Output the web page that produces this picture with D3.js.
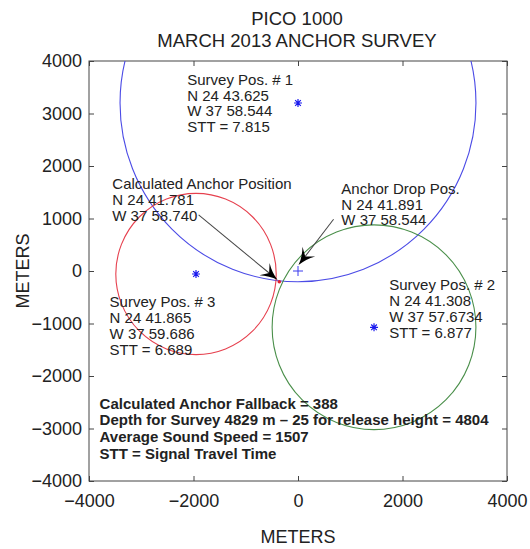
<!DOCTYPE html>
<html>
<head>
<meta charset="utf-8">
<script src="https://cdn.jsdelivr.net/npm/d3@7"></script>
<style>
  html, body { margin: 0; padding: 0; background: #fff; }
  svg { display: block; font-family: "Liberation Sans", Arial, Helvetica, sans-serif; }
</style>
</head>
<body>
<svg id="chart" width="530" height="549"></svg>
<script>
// ---- Survey data (metres relative to the anchor drop position) ----
const surveyNames = ["Survey Pos. # 1", "Survey Pos. # 2", "Survey Pos. # 3"];
const surveyX = [0, 1455, -1952];
const surveyY = [3200, -1072, -57];
const surveyRange = [3406, 1950, 1535];          // horizontal range circles
const surveyLat = ["N 24 43.625", "N 24 41.308", "N 24 41.865"];
const surveyLon = ["W 37 58.544", "W 37 57.6734", "W 37 59.686"];
const surveySTT = ["7.815", "6.877", "6.689"];
const surveyColors = ["#4b4be6", "#4a8f4a", "#e6404e"];

const dropPos = [0, 0];
const dropLat = "N 24 41.891";
const dropLon = "W 37 58.544";

const anchorPos = [-358, -204];
const anchorLat = "N 24 41.781";
const anchorLon = "W 37 58.740";

const notes = [
  "Calculated Anchor Fallback = 388",
  "Depth for Survey 4829 m \u2013 25 for release height = 4804",
  "Average Sound Speed = 1507",
  "STT = Signal Travel Time"
];

const xTicks = [-4000, -2000, 0, 2000, 4000];
const yTicks = [-4000, -3000, -2000, -1000, 0, 1000, 2000, 3000, 4000];
const titleLines = ["PICO 1000", "MARCH 2013 ANCHOR SURVEY"];
const axisLabel = "METERS";

// ---- Layout ----
const svg = d3.select("#chart");
const pL = 89, pR = 507, pT = 61, pB = 481;
const x = d3.scaleLinear().domain([-4000, 4000]).range([pL, pR]);
const y = d3.scaleLinear().domain([-4000, 4000]).range([pB, pT]);
const axisColor = "#444";

svg.append("defs").append("clipPath").attr("id", "plotClip")
  .append("rect").attr("x", pL).attr("y", pT)
  .attr("width", pR - pL).attr("height", pB - pT);

// Title
svg.append("g").selectAll("text").data(titleLines).join("text")
  .attr("x", 297).attr("y", (d, i) => 24.5 + i * 22)
  .attr("text-anchor", "middle").attr("font-size", 18.5).attr("fill", "#222")
  .text(d => d);

// Axes (ticks inside, mirrored on the opposite sides)
const tickFmt = d => d < 0 ? "\u2212" + Math.abs(d) : String(d);
function styleAxis(g) {
  g.select(".domain").remove();
  g.selectAll(".tick line").attr("stroke", axisColor);
  g.selectAll(".tick text").attr("fill", "#222").attr("font-size", 18)
    .attr("font-family", "Liberation Sans, Arial, sans-serif");
}
svg.append("g").attr("transform", `translate(0,${pB})`)
  .call(d3.axisBottom(x).tickValues(xTicks).tickFormat(tickFmt).tickSizeInner(-5).tickSizeOuter(0).tickPadding(13))
  .call(styleAxis);
svg.append("g").attr("transform", `translate(0,${pT})`)
  .call(d3.axisTop(x).tickValues(xTicks).tickFormat("").tickSizeInner(-5).tickSizeOuter(0))
  .call(styleAxis);
svg.append("g").attr("transform", `translate(${pL},0)`)
  .call(d3.axisLeft(y).tickValues(yTicks).tickFormat(tickFmt).tickSizeInner(-5).tickSizeOuter(0).tickPadding(7))
  .call(styleAxis);
svg.append("g").attr("transform", `translate(${pR},0)`)
  .call(d3.axisRight(y).tickValues(yTicks).tickFormat("").tickSizeInner(-5).tickSizeOuter(0))
  .call(styleAxis);

svg.append("rect").attr("x", pL).attr("y", pT)
  .attr("width", pR - pL).attr("height", pB - pT)
  .attr("fill", "none").attr("stroke", axisColor).attr("stroke-width", 1);

// Axis titles
svg.append("text").attr("x", 298).attr("y", 543).attr("text-anchor", "middle")
  .attr("font-size", 18).attr("fill", "#222").text(axisLabel);
svg.append("text").attr("transform", `translate(29,${(pT + pB) / 2}) rotate(-90)`)
  .attr("text-anchor", "middle").attr("font-size", 18).attr("fill", "#222").text(axisLabel);

// Range circles
const plot = svg.append("g").attr("clip-path", "url(#plotClip)");
const kx = (x(1000) - x(0)) / 1000, ky = (y(0) - y(1000)) / 1000;
plot.selectAll("ellipse.range").data(surveyX).join("ellipse")
  .attr("class", "range")
  .attr("cx", (d, i) => x(surveyX[i]))
  .attr("cy", (d, i) => y(surveyY[i]))
  .attr("rx", (d, i) => surveyRange[i] * kx)
  .attr("ry", (d, i) => surveyRange[i] * ky)
  .attr("fill", "none")
  .attr("stroke", (d, i) => surveyColors[i])
  .attr("stroke-width", 1.1);

// Survey positions: '*' markers
const starPath = r => {
  const a = r * 0.7071;
  return `M${-r},0L${r},0M0,${-r}L0,${r}M${-a},${-a}L${a},${a}M${-a},${a}L${a},${-a}`;
};
plot.selectAll("path.star").data(surveyX).join("path")
  .attr("class", "star")
  .attr("transform", (d, i) => `translate(${x(surveyX[i])},${y(surveyY[i])})`)
  .attr("d", starPath(4))
  .attr("stroke", "#1a1aee").attr("stroke-width", 1.2).attr("fill", "none");

// Anchor drop position: '+' marker
plot.append("path")
  .attr("transform", `translate(${x(dropPos[0])},${y(dropPos[1])})`)
  .attr("d", "M-5,0L5,0M0,-5L0,5")
  .attr("stroke", "#3a3aee").attr("stroke-width", 1);

// Calculated anchor position: small red dot
plot.append("circle")
  .attr("cx", x(anchorPos[0])).attr("cy", y(anchorPos[1])).attr("r", 1.8)
  .attr("fill", "#e02030");

// Text blocks anchored at the first line's centre (data units)
function textBlock(px, py, lines, opts = {}) {
  const size = opts.size || 15, gap = opts.gap || 15.8;
  svg.append("g").selectAll("text").data(lines).join("text")
    .attr("x", x(px))
    .attr("y", (d, i) => y(py) + size * 0.36 + i * gap)
    .attr("font-size", size)
    .attr("font-weight", opts.bold ? "bold" : "normal")
    .attr("fill", "#222")
    .text(d => d);
}
const surveyLabelAt = [[-2120, 3650], [1747, -267], [-3606, -585]];
surveyNames.forEach((name, i) => {
  textBlock(surveyLabelAt[i][0], surveyLabelAt[i][1],
    [name, surveyLat[i], surveyLon[i], "STT = " + surveySTT[i]]);
});
textBlock(-3554, 1657, ["Calculated Anchor Position", anchorLat, anchorLon]);
textBlock(829, 1575, ["Anchor Drop Pos.", dropLat, dropLon]);
textBlock(-3797, -2520, notes, { bold: true, size: 15, gap: 16.7 });

// Arrows with a swept-back head
function arrow(from, to) {
  const x0 = x(from[0]), y0 = y(from[1]), x1 = x(to[0]), y1 = y(to[1]);
  const ang = Math.atan2(y1 - y0, x1 - x0);
  const len = Math.hypot(x1 - x0, y1 - y0);
  const g = svg.append("g")
    .attr("transform", `translate(${x0},${y0}) rotate(${ang * 180 / Math.PI})`);
  g.append("line").attr("x1", 0).attr("y1", 0).attr("x2", len - 9).attr("y2", 0)
    .attr("stroke", "#444").attr("stroke-width", 1);
  g.append("path")
    .attr("d", `M${len},0 Q${len - 9},2 ${len - 17},8 L${len - 11},0 L${len - 17},-8 Q${len - 9},-2 ${len},0Z`)
    .attr("fill", "#000");
}
arrow([-1902, 1067], [-390, -171]);
arrow([681, 985], [10, 112]);
</script>
</body>
</html>
